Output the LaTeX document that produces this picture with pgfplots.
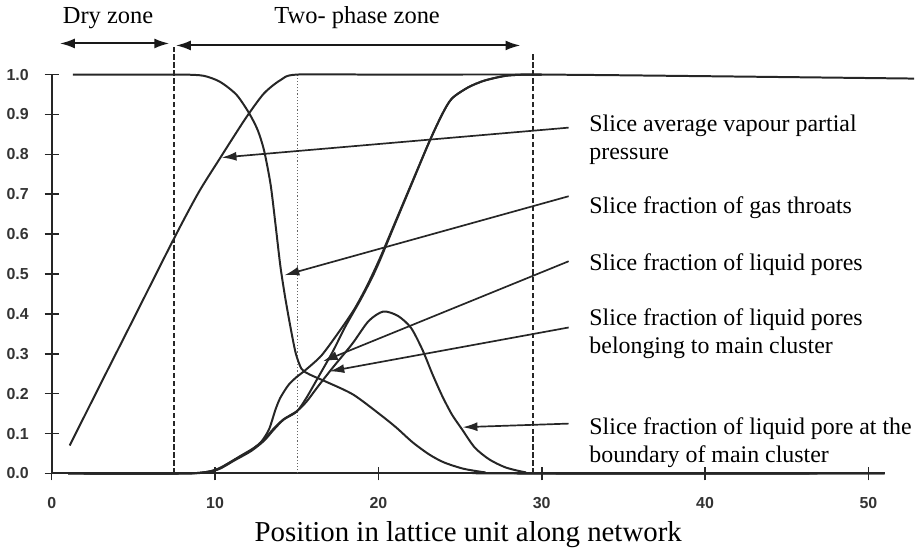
\documentclass[border=0pt]{standalone}
\usepackage{fontspec}
\setmainfont{Liberation Serif}
\newfontfamily\tickfont{Liberation Sans}
\usepackage{pgfplots}
\usepackage{pgfplotstable}
\pgfplotsset{compat=1.18}
\usetikzlibrary{arrows.meta}

\tikzset{
    note/.style={-{Latex[length=7.5pt,width=4.5pt]}, line width=0.85pt, black!85},
    lbl/.style={anchor=base west, inner sep=0pt, font=\fontsize{12}{14}\selectfont},
    zone/.style={black!85, line width=0.8pt, dash pattern=on 2.6pt off 1.4pt},
    span/.style={{Latex[length=7.5pt,width=5pt]}-{Latex[length=7.5pt,width=5pt]}, line width=1pt, black!90},
}
\pgfplotsset{curve/.style={black!85, line width=1pt, smooth, tension=0.45, mark=none}}

% slice average vapour partial pressure
\pgfplotstableread{
x y
1.1 0.07
3 0.225
5 0.387
7.5 0.59
9 0.705
10.3 0.79
11.2 0.848
12 0.898
13 0.953
14 0.986
15 1.0
20 1.0
30 1.0
40 0.996
52.8 0.99
}\pressure

% slice fraction of gas throats
\pgfplotstableread{
x y
1.3 1.0
5 1.0
8 1.0
9.3 0.997
10.3 0.982
11.3 0.95
12.06 0.905
12.6 0.862
13.0 0.81
13.4 0.725
13.7 0.625
14.0 0.52
14.3 0.44
14.65 0.36
14.95 0.30
15.3 0.262
15.8 0.248
16.8 0.23
18.45 0.198
20.1 0.148
21.1 0.115
22.1 0.078
23.1 0.048
24 0.028
25.2 0.012
26.5 0.003
27.5 0.0
51 0.0
}\gas

% slice fraction of liquid pores
\pgfplotstableread{
x y
1 0
8 0
9.5 0.004
10.2 0.012
11 0.03
11.6 0.045
12.3 0.062
12.8 0.078
13.3 0.11
13.7 0.16
14.0 0.19
14.5 0.222
15.0 0.242
15.5 0.258
16.5 0.295
17.5 0.35
18.5 0.41
19.3 0.47
20.1 0.54
21 0.627
22 0.724
23.1 0.83
23.9 0.9
24.5 0.94
25.5 0.968
26.5 0.985
27.8 0.997
29 1.0
30 1.0
}\liquid

% slice fraction of liquid pores belonging to main cluster
\pgfplotstableread{
x y
1 0
8 0
9.5 0.003
10.3 0.012
11.2 0.033
12.2 0.056
13 0.082
13.6 0.11
14.2 0.135
15 0.155
15.6 0.19
16.3 0.24
17.2 0.305
18 0.37
18.9 0.435
19.6 0.49
20.1 0.535
21 0.624
22 0.722
23.1 0.83
23.9 0.9
24.5 0.94
25.5 0.968
26.5 0.985
27.8 0.997
29 1.0
30 1.0
}\cluster

% slice fraction of liquid pore at the boundary of main cluster
\pgfplotstableread{
x y
1 0
8 0
9.5 0.004
10.3 0.013
11.2 0.035
12.2 0.058
13 0.085
13.6 0.113
14.2 0.136
15 0.156
15.6 0.18
16.3 0.218
17.2 0.265
18.4 0.325
19.4 0.382
20.3 0.406
21.2 0.395
22 0.365
22.7 0.31
23.3 0.25
23.9 0.195
24.5 0.148
25.1 0.112
25.9 0.065
26.8 0.035
27.8 0.015
29 0.003
30 0
51 0
}\boundary

\begin{document}
\begin{tikzpicture}
\begin{axis}[
    x=8.21pt, y=200.5pt,
    xmin=0, xmax=51, ymin=0, ymax=1,
    axis lines=left,
    axis line style={-, line width=1pt, black!85},
    clip=false,
    tick align=center,
    major tick length=7pt,
    tick style={line width=0.8pt, black!85},
    xtick={0,10,...,50},
    ytick={0,0.1,...,1.0},
    yticklabel style={/pgf/number format/fixed, /pgf/number format/fixed zerofill,
        /pgf/number format/precision=1, xshift=-4.5pt},
    /pgf/number format/assume math mode=true,
    ticklabel style={font=\tickfont\bfseries\fontsize{8}{9.5}\selectfont, text=black!80},
    xticklabel style={yshift=-5pt},
    xlabel={Position in lattice unit along network},
    xlabel style={at={(rel axis cs:0.5,0)}, anchor=center, yshift=-30.5pt,
        inner sep=0pt, font=\fontsize{14.5}{17}\selectfont},
]
\path (axis cs:-2.86,-0.1845) rectangle (axis cs:53.1,1.187);

% zone markers
\draw[zone] (axis cs:7.5,0) -- (axis cs:7.5,1.07);
\draw[zone] (axis cs:29.45,0) -- (axis cs:29.45,1.057);
\draw[black!60, line width=0.6pt, densely dotted] (axis cs:15.05,0) -- (axis cs:15.05,1.0);

\draw[span] (axis cs:0.5,1.078) -- (axis cs:7.2,1.078);
\draw[span] (axis cs:7.6,1.073) -- (axis cs:28.7,1.073);
\node[inner sep=0pt, font=\fontsize{12.3}{14}\selectfont] at (axis cs:3.45,1.142) {Dry zone};
\node[inner sep=0pt, font=\fontsize{12.3}{14}\selectfont] at (axis cs:18.7,1.142) {Two- phase zone};

\addplot[curve] table[x=x, y=y] {\pressure};
\addplot[curve] table[x=x, y=y] {\gas};
\addplot[curve] table[x=x, y=y] {\liquid};
\addplot[curve] table[x=x, y=y] {\cluster};
\addplot[curve] table[x=x, y=y] {\boundary};

% annotations
\draw[note] (axis cs:31.65,0.867) -- (axis cs:10.4,0.792);
\draw[note] (axis cs:31.65,0.695) -- (axis cs:14.25,0.497);
\draw[note] (axis cs:31.65,0.532) -- (axis cs:16.6,0.281);
\draw[note] (axis cs:31.65,0.366) -- (axis cs:17.0,0.256);
\draw[note] (axis cs:31.65,0.125) -- (axis cs:25.15,0.116);

\node[lbl] at (axis cs:32.9,0.858) {Slice average vapour partial};
\node[lbl] at (axis cs:32.9,0.788) {pressure};
\node[lbl] at (axis cs:32.9,0.6525) {Slice fraction of gas throats};
\node[lbl] at (axis cs:32.9,0.5095) {Slice fraction of liquid pores};
\node[lbl] at (axis cs:32.9,0.372) {Slice fraction of liquid pores};
\node[lbl] at (axis cs:32.9,0.302) {belonging to main cluster};
\node[lbl] at (axis cs:32.9,0.098) {Slice fraction of liquid pore at the};
\node[lbl] at (axis cs:32.9,0.028) {boundary of main cluster};
\end{axis}
\end{tikzpicture}
\end{document}
